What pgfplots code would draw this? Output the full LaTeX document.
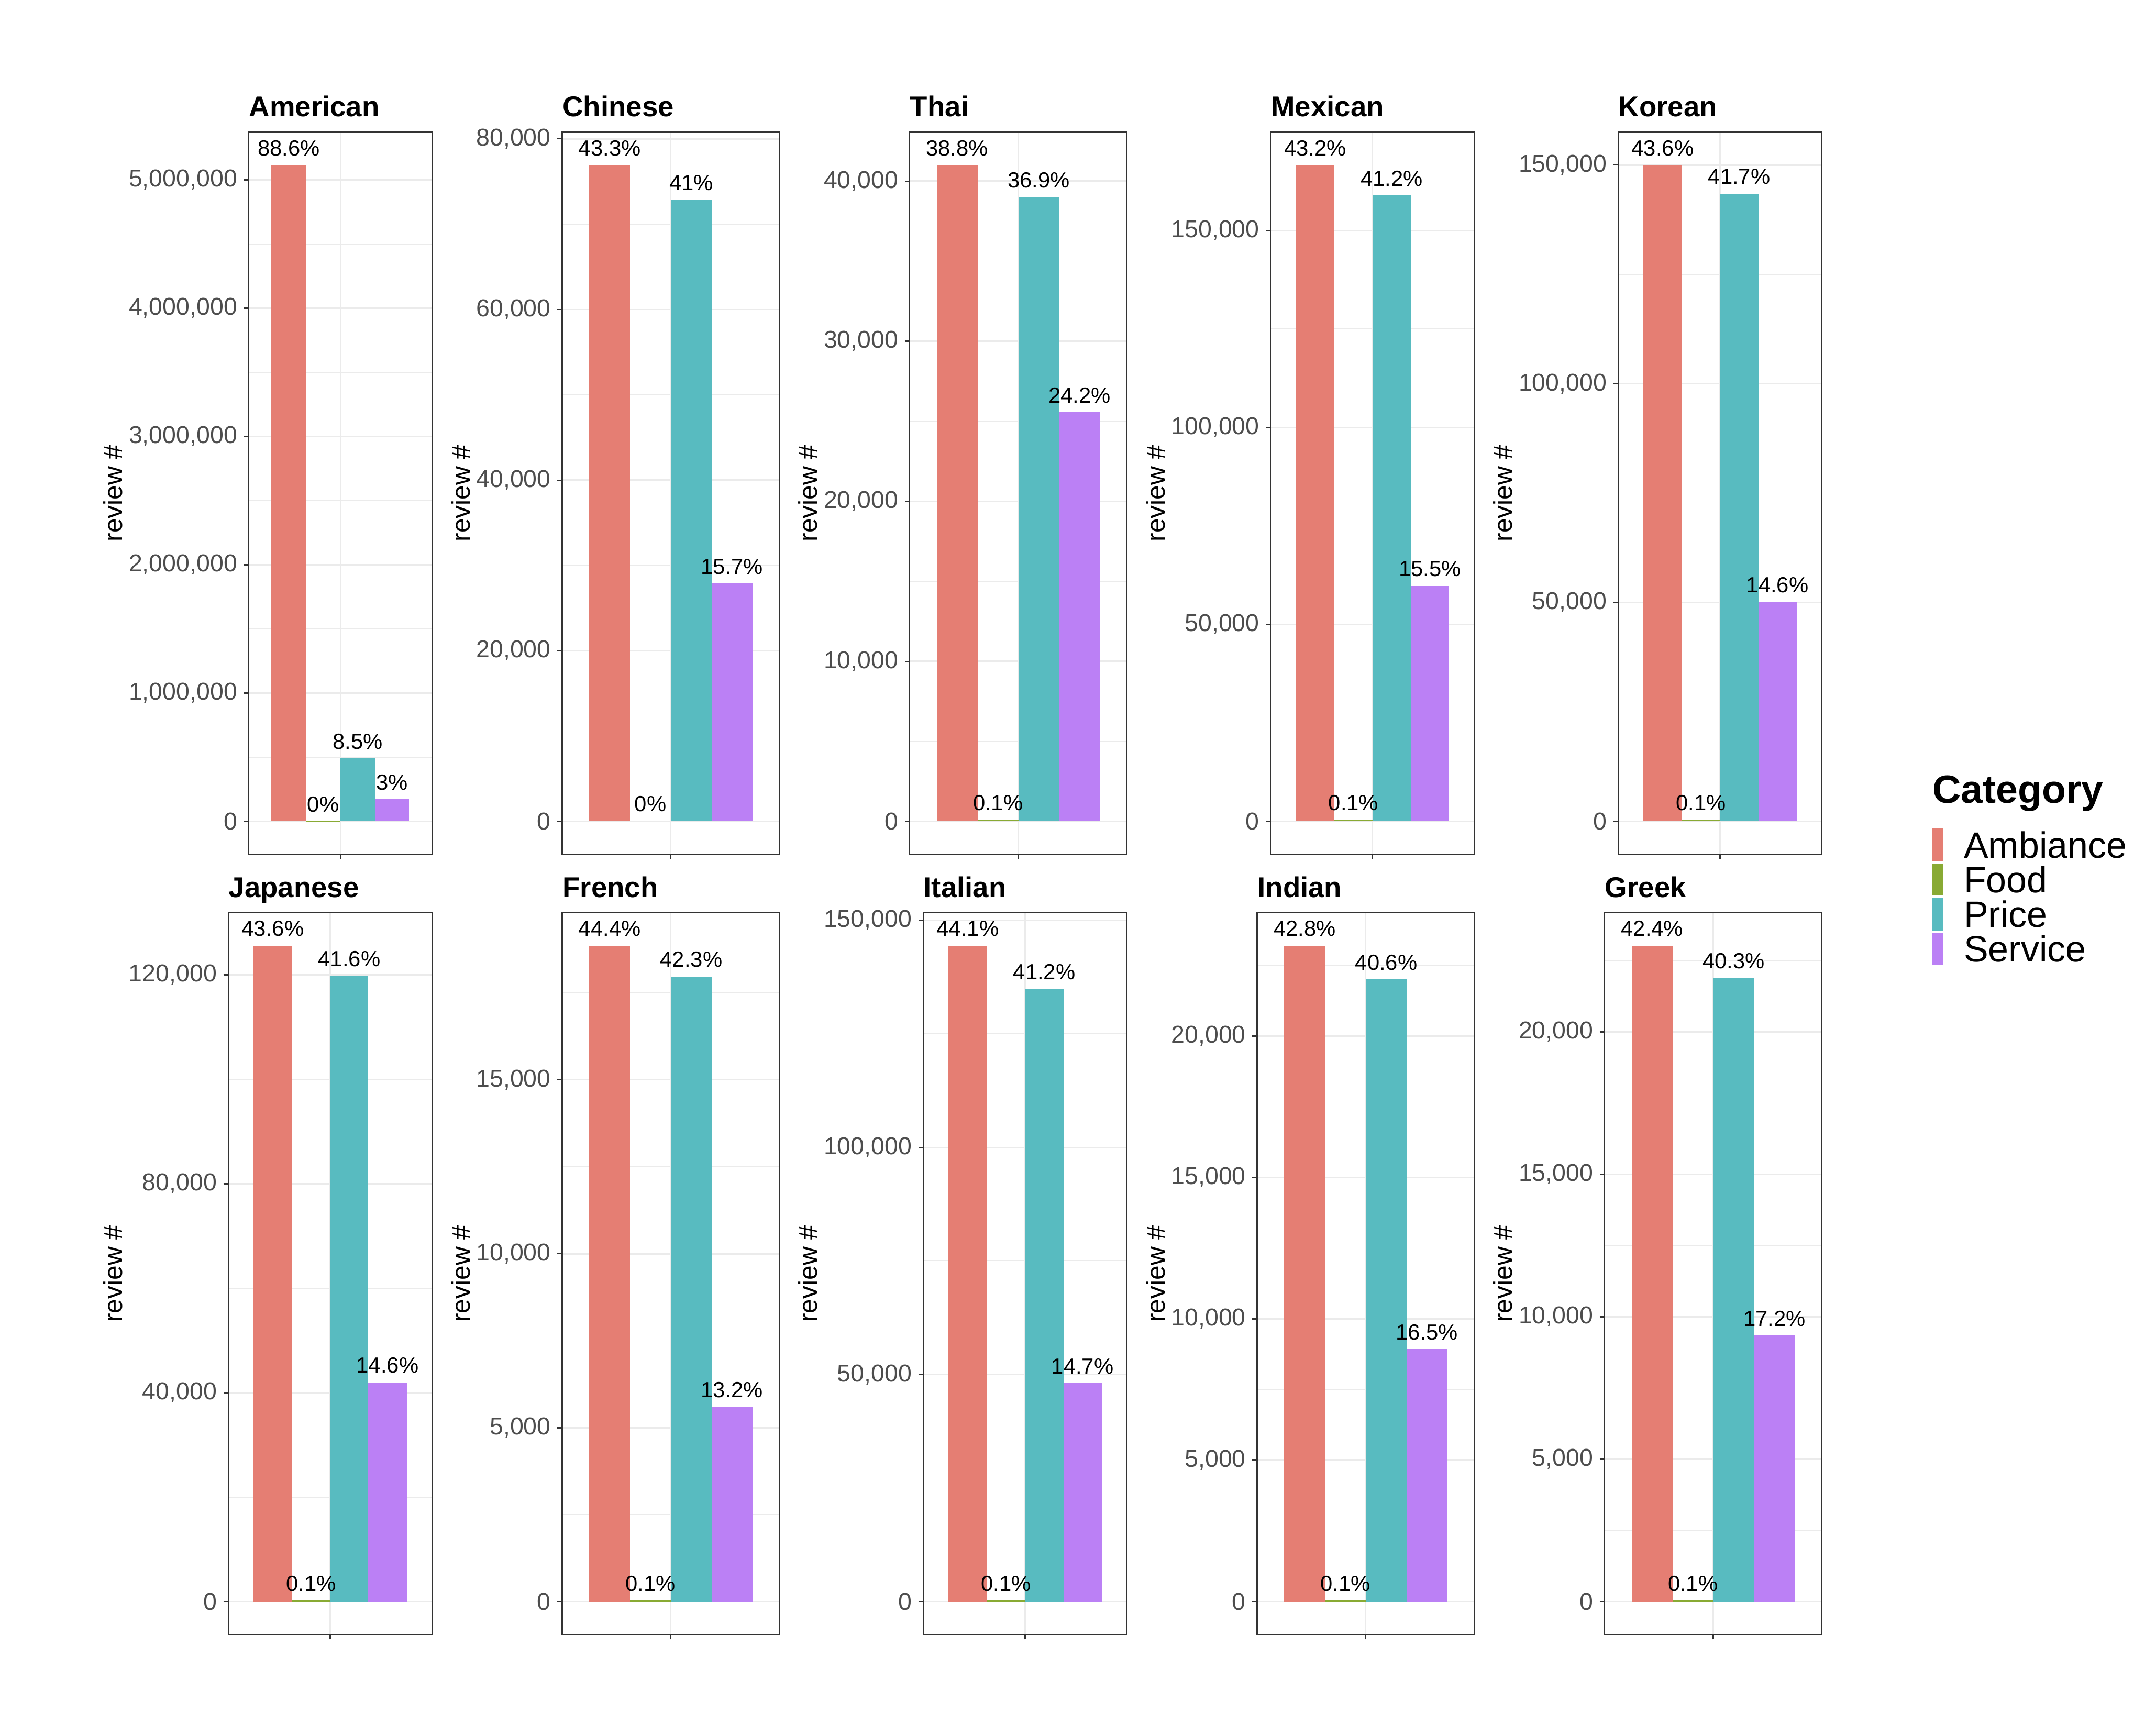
\documentclass[border=0pt]{standalone}
\usepackage{fontspec}
\setmainfont{Liberation Sans}
\usepackage{pgfplots}
\pgfplotsset{compat=1.18}
\definecolor{camb}{RGB}{229,126,115}
\definecolor{cfood}{RGB}{137,170,52}
\definecolor{cprice}{RGB}{88,187,192}
\definecolor{cserv}{RGB}{187,128,245}
\definecolor{cgrid}{RGB}{235,235,235}
\definecolor{cborder}{RGB}{51,51,51}
\definecolor{ctick}{RGB}{77,77,77}
\pgfplotsset{
  panel/.style={
    scale only axis, anchor=south west,
    xmin=0.4, xmax=1.6,
    xtick={1}, xticklabels={},
    tick pos=left, tick align=outside,
    major tick length=1.72pt, minor tick length=0pt,
    xmajorgrids, ymajorgrids, yminorgrids,
    major grid style={draw=cgrid, line width=0.5pt},
    minor grid style={draw=cgrid, line width=0.25pt},
    axis line style={draw=cborder, line width=0.45pt},
    major tick style={draw=cborder, line width=0.45pt},
    scaled y ticks=false,
    /pgf/number format/fixed,
    /pgf/number format/precision=0,
    /pgf/number format/assume math mode=true,
    /pgf/number format/1000 sep={,},
    yticklabel style={font=\fontsize{8.9}{10}\selectfont, text=ctick, inner sep=0pt, xshift=-2.23pt},
    every axis title/.style={at={(rel axis cs:0,1)}, anchor=base west, yshift=5.7pt, inner sep=0pt, font=\bfseries\fontsize{10.45}{12}\selectfont},
    nodes near coords, point meta=explicit symbolic,
    every node near coord/.append style={anchor=base, yshift=3.4pt, inner sep=0pt, font=\fontsize{8}{9}\selectfont, text=black},
    ylabel={review \#},
  },
  ylab/.style={every axis y label/.style={at={([xshift=-#1]rel axis cs:0,0.5)}, rotate=90, anchor=base, inner sep=0pt, font=\fontsize{9.5}{11}\selectfont}},
  catA/.style={ybar, bar width=0.225, bar shift=0pt, fill=camb, draw=none},
  catF/.style={ybar, bar width=0.225, bar shift=0pt, fill=cfood, draw=none},
  catP/.style={ybar, bar width=0.225, bar shift=0pt, fill=cprice, draw=none},
  catS/.style={ybar, bar width=0.225, bar shift=0pt, fill=cserv, draw=none},
  keybox/.style={legend image code/.code={\fill[##1] (0pt,-5.925pt) rectangle (4pt,5.925pt);}},
}
\begin{document}
\begin{tikzpicture}
\path[use as bounding box, fill=white] (0,0) rectangle (784pt,634.5pt);
% ---------------- Row 1 ----------------
\begin{axis}[panel, ylab=46.1pt, at={(90.85pt,322.3pt)}, width=67.1pt, height=263.85pt,
  title={American}, ymin=-255750, ymax=5370750,
  ytick={0,1000000,2000000,3000000,4000000,5000000},
  minor ytick={500000,1500000,2500000,3500000,4500000}]
\addplot[catA] coordinates {(0.6625,5115000) [88.6\%]};
\addplot[catF] coordinates {(0.8875,1500) [0\%]};
\addplot[catP] coordinates {(1.1125,491000) [8.5\%]};
\addplot[catS] coordinates {(1.3375,173000) [3\%]};
\end{axis}
\begin{axis}[panel, ylab=33.7pt, at={(205.45pt,322.3pt)}, width=79.5pt, height=263.85pt,
  title={Chinese}, ymin=-3846.5, ymax=80776.5,
  ytick={0,20000,40000,60000,80000},
  minor ytick={10000,30000,50000,70000}]
\addplot[catA] coordinates {(0.6625,76930) [43.3\%]};
\addplot[catF] coordinates {(0.8875,60) [0\%]};
\addplot[catP] coordinates {(1.1125,72850) [41\%]};
\addplot[catS] coordinates {(1.3375,27900) [15.7\%]};
\end{axis}
\begin{axis}[panel, ylab=33.7pt, at={(332.45pt,322.3pt)}, width=79.5pt, height=263.85pt,
  title={Thai}, ymin=-2050, ymax=43050,
  ytick={0,10000,20000,30000,40000},
  minor ytick={5000,15000,25000,35000}]
\addplot[catA] coordinates {(0.6625,41000) [38.8\%]};
\addplot[catF] coordinates {(0.8875,106) [0.1\%]};
\addplot[catP] coordinates {(1.1125,38990) [36.9\%]};
\addplot[catS] coordinates {(1.3375,25570) [24.2\%]};
\end{axis}
\begin{axis}[panel, ylab=38.65pt, at={(464.4pt,322.3pt)}, width=74.55pt, height=263.85pt,
  title={Mexican}, ymin=-8330, ymax=174930,
  ytick={0,50000,100000,150000},
  minor ytick={25000,75000,125000}]
\addplot[catA] coordinates {(0.6625,166600) [43.2\%]};
\addplot[catF] coordinates {(0.8875,386) [0.1\%]};
\addplot[catP] coordinates {(1.1125,158900) [41.2\%]};
\addplot[catS] coordinates {(1.3375,59800) [15.5\%]};
\end{axis}
\begin{axis}[panel, ylab=38.65pt, at={(591.4pt,322.3pt)}, width=74.55pt, height=263.85pt,
  title={Korean}, ymin=-7500, ymax=157500,
  ytick={0,50000,100000,150000},
  minor ytick={25000,75000,125000},
  legend cell align=left,
  legend style={at={(axis description cs:1.5399,0.03525)}, anchor=north west,
    draw=none, fill=none, inner sep=0pt, outer sep=0pt,
    row sep=0.8pt, column sep=7.6pt,
    font=\fontsize{13.4}{15}\selectfont,
    nodes={inner sep=0pt, outer sep=0pt, text height=9.6pt, text depth=0pt}}]
\addplot[catA, keybox] coordinates {(0.6625,150000) [43.6\%]};
\addlegendentry{Ambiance}
\addplot[catF, keybox] coordinates {(0.8875,344) [0.1\%]};
\addlegendentry{Food}
\addplot[catP, keybox] coordinates {(1.1125,143500) [41.7\%]};
\addlegendentry{Price}
\addplot[catS, keybox] coordinates {(1.3375,50200) [14.6\%]};
\addlegendentry{Service}
\end{axis}
% ---------------- Row 2 ----------------
\begin{axis}[panel, ylab=38.65pt, at={(83.4pt,37.05pt)}, width=74.55pt, height=263.85pt,
  title={Japanese}, ymin=-6280, ymax=131880,
  ytick={0,40000,80000,120000},
  minor ytick={20000,60000,100000}]
\addplot[catA] coordinates {(0.6625,125600) [43.6\%]};
\addplot[catF] coordinates {(0.8875,288) [0.1\%]};
\addplot[catP] coordinates {(1.1125,119800) [41.6\%]};
\addplot[catS] coordinates {(1.3375,42000) [14.6\%]};
\end{axis}
\begin{axis}[panel, ylab=33.7pt, at={(205.45pt,37.05pt)}, width=79.5pt, height=263.85pt,
  title={French}, ymin=-943, ymax=19803,
  ytick={0,5000,10000,15000},
  minor ytick={2500,7500,12500,17500}]
\addplot[catA] coordinates {(0.6625,18860) [44.4\%]};
\addplot[catF] coordinates {(0.8875,42) [0.1\%]};
\addplot[catP] coordinates {(1.1125,17970) [42.3\%]};
\addplot[catS] coordinates {(1.3375,5610) [13.2\%]};
\end{axis}
\begin{axis}[panel, ylab=38.65pt, at={(337.4pt,37.05pt)}, width=74.55pt, height=263.85pt,
  title={Italian}, ymin=-7220, ymax=151620,
  ytick={0,50000,100000,150000},
  minor ytick={25000,75000,125000}]
\addplot[catA] coordinates {(0.6625,144400) [44.1\%]};
\addplot[catF] coordinates {(0.8875,327) [0.1\%]};
\addplot[catP] coordinates {(1.1125,134900) [41.2\%]};
\addplot[catS] coordinates {(1.3375,48100) [14.7\%]};
\end{axis}
\begin{axis}[panel, ylab=33.7pt, at={(459.45pt,37.05pt)}, width=79.5pt, height=263.85pt,
  title={Indian}, ymin=-1160, ymax=24360,
  ytick={0,5000,10000,15000,20000},
  minor ytick={2500,7500,12500,17500,22500}]
\addplot[catA] coordinates {(0.6625,23200) [42.8\%]};
\addplot[catF] coordinates {(0.8875,54) [0.1\%]};
\addplot[catP] coordinates {(1.1125,22000) [40.6\%]};
\addplot[catS] coordinates {(1.3375,8940) [16.5\%]};
\end{axis}
\begin{axis}[panel, ylab=33.7pt, at={(586.45pt,37.05pt)}, width=79.5pt, height=263.85pt,
  title={Greek}, ymin=-1151.5, ymax=24181.5,
  ytick={0,5000,10000,15000,20000},
  minor ytick={2500,7500,12500,17500,22500}]
\addplot[catA] coordinates {(0.6625,23030) [42.4\%]};
\addplot[catF] coordinates {(0.8875,54) [0.1\%]};
\addplot[catP] coordinates {(1.1125,21890) [40.3\%]};
\addplot[catS] coordinates {(1.3375,9340) [17.2\%]};
\end{axis}
\node[anchor=base west, inner sep=0pt, font=\bfseries\fontsize{14.4}{16}\selectfont] at (706.2pt,341pt) {Category};
\end{tikzpicture}
\end{document}
